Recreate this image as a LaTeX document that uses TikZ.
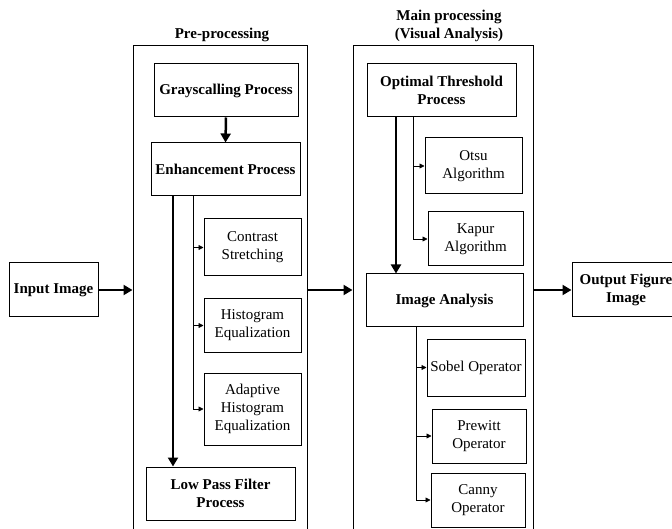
\documentclass[tikz,border=0pt]{standalone}
\usepackage{fontspec}
\setmainfont{Liberation Serif}
\usetikzlibrary{arrows.meta}
\tikzset{
    procbox/.style = {rectangle, draw=black, align=center, font=\bfseries, inner sep=2pt},
    subbox/.style = {rectangle, draw=black, align=center, inner sep=2pt},
    panel/.style = {rectangle, draw=black},
    bigarrow/.style = {-{Triangle[length=9pt,width=10pt]}, line width=2.5pt},
    smallarrow/.style = {-{Triangle[length=5pt,width=5pt]}, line width=0.8pt},
    branch/.style = {line width=0.8pt}
}
\begin{document}
\fontsize{15}{18}\selectfont
\begin{tikzpicture}[
    x=1pt, y=-1pt,
    line width=1pt
]
\useasboundingbox (0,0) rectangle (672,529);
% panels
\node[panel, minimum width=174, minimum height=500] at (220,296) (pre) {};
\node[panel, minimum width=180, minimum height=500] at (443,296) (main) {};
\node[font=\bfseries] at (222,35) (pretitle) {Pre-processing};
\node[font=\bfseries, align=center] at (449,26) (maintitle) {Main processing\\(Visual Analysis)};
% pre-processing
\node[procbox, minimum width=144, minimum height=53] at (226,90.5) (gray) {Grayscalling Process};
\node[procbox, minimum width=149, minimum height=53] at (225.5,169.5) (enh) {Enhancement Process};
\node[subbox, minimum width=97, minimum height=57] at (252.5,247.5) (contrast) {Contrast\\Stretching};
\node[subbox, minimum width=97, minimum height=53] at (252.5,325.5) (histeq) {Histogram\\Equalization};
\node[subbox, minimum width=97, minimum height=72] at (252.5,409) (adapt) {Adaptive\\Histogram\\Equalization};
\node[procbox, minimum width=149, minimum height=53] at (220.5,493.5) (lowpass) {Low Pass Filter\\Process};
% main processing
\node[procbox, minimum width=149, minimum height=53] at (441.5,90.5) (optimal) {Optimal Threshold\\Process};
\node[subbox, minimum width=97, minimum height=56] at (473.5,166) (otsu) {Otsu\\Algorithm};
\node[subbox, minimum width=95, minimum height=54] at (475.5,239) (kapur) {Kapur\\Algorithm};
\node[procbox, minimum width=157, minimum height=53] at (444.5,300.5) (imgan) {Image Analysis};
\node[subbox, minimum width=98, minimum height=57] at (476,367.5) (sobel) {Sobel Operator};
\node[subbox, minimum width=94, minimum height=54] at (479,436) (prewitt) {Prewitt\\Operator};
\node[subbox, minimum width=94, minimum height=54] at (478,500) (canny) {Canny\\Operator};
% input / output
\node[procbox, minimum width=89, minimum height=54] at (53.5,290) (input) {Input Image};
\node[procbox, minimum width=108, minimum height=54] at (626,290) (output) {Output Figure\\Image};
\coordinate (ebr) at ([xshift=-32.5]enh.south);
\coordinate (obr) at ([xshift=-28.5]optimal.south);
\coordinate (ibr) at ([xshift=-28.5]imgan.south);
\draw[bigarrow] (input.east) -- (input.east -| pre.west);
\draw[bigarrow] (input -| pre.east) -- (input -| main.west);
\draw[bigarrow] (output -| main.east) -- (output.west);
\draw[bigarrow] (gray.south) -- (enh.north);
\draw[bigarrow] ([xshift=-52.5]enh.south) -- ([xshift=-52.5]enh.south |- lowpass.north);
\draw[bigarrow] ([xshift=-45.5]optimal.south) -- ([xshift=-45.5]optimal.south |- imgan.north);
\draw[branch] (ebr) -- (ebr |- adapt.west);
\draw[smallarrow] (ebr |- contrast.west) -- (contrast.west);
\draw[smallarrow] (ebr |- histeq.west) -- (histeq.west);
\draw[smallarrow] (ebr |- adapt.west) -- (adapt.west);
\draw[branch] (obr) -- (obr |- kapur.west);
\draw[smallarrow] (obr |- otsu.west) -- (otsu.west);
\draw[smallarrow] (obr |- kapur.west) -- (kapur.west);
\draw[branch] (ibr) -- (ibr |- canny.west);
\draw[smallarrow] (ibr |- sobel.west) -- (sobel.west);
\draw[smallarrow] (ibr |- prewitt.west) -- (prewitt.west);
\draw[smallarrow] (ibr |- canny.west) -- (canny.west);
\end{tikzpicture}
\end{document}
